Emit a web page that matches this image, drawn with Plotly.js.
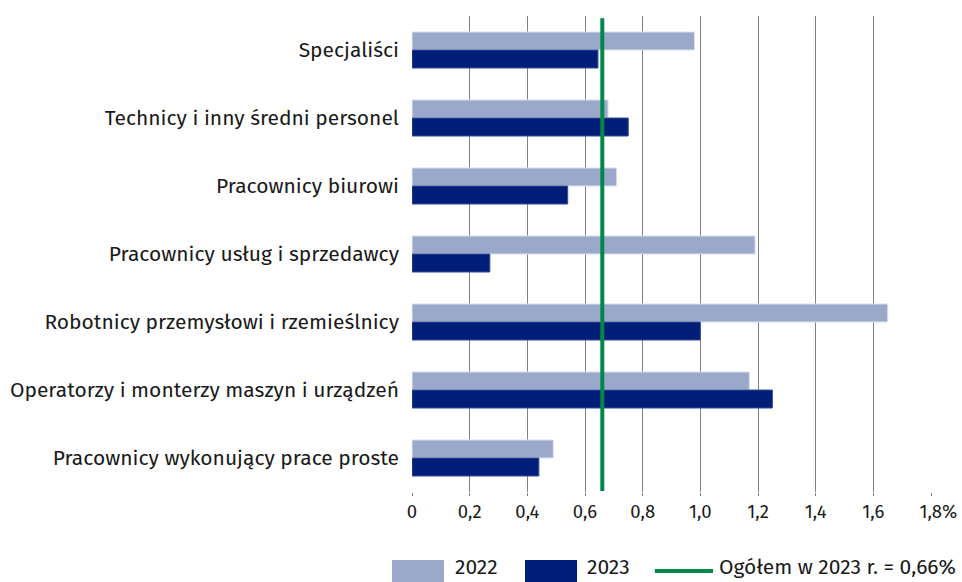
<!DOCTYPE html>
<html>
<head>
<meta charset="utf-8">
<script src="https://cdn.plot.ly/plotly-3.0.1.min.js"></script>
<style>html,body{margin:0;padding:0;background:#fff;}#chart{width:962px;height:582px;}</style>
</head>
<body>
<div id="chart"></div>
<script>
const categories = [
  "Specjaliści",
  "Technicy i inny średni personel",
  "Pracownicy biurowi",
  "Pracownicy usług i sprzedawcy",
  "Robotnicy przemysłowi i rzemieślnicy",
  "Operatorzy i monterzy maszyn i urządzeń",
  "Pracownicy wykonujący prace proste"
];
const values2022 = [0.98, 0.68, 0.71, 1.19, 1.65, 1.17, 0.49];
const values2023 = [0.645, 0.75, 0.54, 0.27, 1.00, 1.25, 0.44];
const totalValue = 0.66;
const totalLabel = "Ogółem w 2023 r. = 0,66%";
const seriesNames = ["2022", "2023"];
const tickVals = [0, 0.2, 0.4, 0.6, 0.8, 1.0, 1.2, 1.4, 1.6, 1.8];
const tickText = ["0", "0,2", "0,4", "0,6", "0,8", "1,0", "1,2", "1,4", "1,6", "\u00A0\u00A0\u00A01,8%"];

const c2022 = "#9AA8CA", c2023 = "#001E78", cGreen = "#00884A";
const font = "Fira Sans, 'Noto Sans', 'Open Sans', sans-serif";

const traces = [
  {type: "bar", orientation: "h", name: seriesNames[0], y: categories, x: values2022,
   marker: {color: c2022, line: {color: "#DDE2EF", width: 1}}, showlegend: false, hoverinfo: "x"},
  {type: "bar", orientation: "h", name: seriesNames[1], y: categories, x: values2023,
   marker: {color: c2023, line: {color: "#3B4F9A", width: 1}}, showlegend: false, hoverinfo: "x"},
  {type: "scatter", mode: "lines", x: [totalValue, totalValue], y: [0, 1], yaxis: "y2",
   line: {color: cGreen, width: 4}, showlegend: false, hoverinfo: "skip"}
];

const layout = {
  width: 962, height: 582,
  margin: {l: 412, r: 31, t: 16, b: 90},
  paper_bgcolor: "#fff", plot_bgcolor: "#fff",
  font: {family: font, size: 20, color: "#1a1a1a"},
  barmode: "group",
  bargap: 0.47,
  bargroupgap: 0,
  xaxis: {
    range: [0, 1.8], tickvals: tickVals, ticktext: tickText,
    showgrid: true, gridcolor: "#808080", gridwidth: 1,
    zeroline: false, showline: false,
    ticks: "outside", ticklen: 3, tickcolor: "#808080",
    tickfont: {size: 18.5, family: font}, fixedrange: true
  },
  yaxis: {
    autorange: "reversed", showgrid: false, zeroline: false, showline: false,
    ticks: "", ticklabelstandoff: 12, tickfont: {size: 21, family: font}, fixedrange: true
  },
  yaxis2: {overlaying: "y", range: [-0.002, 1.005], visible: false, fixedrange: true},
  shapes: [
    {type: "rect", xref: "paper", yref: "paper", x0: -0.0385, x1: 0.0617, y0: -0.1429, y1: -0.195, fillcolor: c2022, line: {width: 0}},
    {type: "rect", xref: "paper", yref: "paper", x0: 0.2177, x1: 0.318, y0: -0.1429, y1: -0.195, fillcolor: c2023, line: {width: 0}},
    {type: "line", xref: "paper", yref: "paper", x0: 0.468, x1: 0.580, y0: -0.166, y1: -0.166, line: {color: cGreen, width: 4}}
  ],
  annotations: [
    {xref: "paper", yref: "paper", x: 0.081, y: -0.1865, xanchor: "left", yanchor: "bottom", text: seriesNames[0], showarrow: false, font: {size: 21}, borderpad: 0},
    {xref: "paper", yref: "paper", x: 0.335, y: -0.1865, xanchor: "left", yanchor: "bottom", text: seriesNames[1], showarrow: false, font: {size: 21}, borderpad: 0},
    {xref: "paper", yref: "paper", x: 0.5896, y: -0.1865, xanchor: "left", yanchor: "bottom", text: totalLabel, showarrow: false, font: {size: 21}, borderpad: 0}
  ],
  showlegend: false
};

Plotly.newPlot("chart", traces, layout, {displayModeBar: false, staticPlot: true});
</script>
</body>
</html>
